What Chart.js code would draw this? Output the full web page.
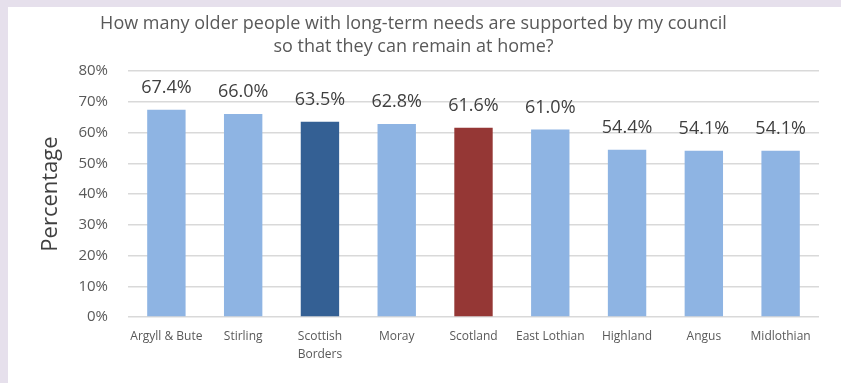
<!DOCTYPE html>
<html>
<head>
<meta charset="utf-8">
<script src="https://cdn.jsdelivr.net/npm/chart.js@4.4.1/dist/chart.umd.min.js"></script>
<style>
  html, body { margin: 0; padding: 0; background: #E6E0EC; }
  #wrap { position: absolute; left: 8px; top: 7px; width: 833px; height: 376px; background: #FFFFFF; }
</style>
</head>
<body>
<div id="wrap"><canvas id="c" width="833" height="376"></canvas></div>
<script>
const councils = [
  'Argyll & Bute', 'Stirling', ['Scottish', 'Borders'], 'Moray', 'Scotland',
  'East Lothian', 'Highland', 'Angus', 'Midlothian'
];
const supportedAtHome = [67.4, 66.0, 63.5, 62.8, 61.6, 61.0, 54.4, 54.1, 54.1];
const barColours = ['#8EB4E3', '#8EB4E3', '#346094', '#8EB4E3', '#953735',
                    '#8EB4E3', '#8EB4E3', '#8EB4E3', '#8EB4E3'];
const yTicks = [0, 10, 20, 30, 40, 50, 60, 70, 80];

const FONT = '"Open Sans", Lato, sans-serif';
const TEXT = '#595959';

// value labels above each bar
const valueLabels = {
  id: 'valueLabels',
  afterDatasetsDraw(chart) {
    const ctx = chart.ctx;
    const meta = chart.getDatasetMeta(0);
    ctx.save();
    ctx.font = '18px ' + FONT;
    ctx.fillStyle = '#404040';
    ctx.textAlign = 'center';
    ctx.textBaseline = 'middle';
    meta.data.forEach((bar, i) => {
      ctx.fillText(supportedAtHome[i].toFixed(1) + '%', bar.x, bar.y - 22);
    });
    ctx.restore();
  }
};

new Chart(document.getElementById('c'), {
  type: 'bar',
  data: {
    labels: councils,
    datasets: [{
      data: supportedAtHome,
      backgroundColor: barColours,
      barPercentage: 0.5,
      categoryPercentage: 1.0
    }]
  },
  options: {
    responsive: false,
    animation: false,
    layout: { padding: { top: 5, right: 22, left: 0, bottom: 0 } },
    plugins: {
      legend: { display: false },
      tooltip: { enabled: false },
      title: {
        display: true,
        text: ['How many older people with long-term needs are supported by my council',
               'so that they can remain at home?'],
        color: TEXT,
        font: { family: FONT, size: 18, weight: 'normal', lineHeight: 1.28 },
        padding: { top: 0, bottom: 13 }
      }
    },
    scales: {
      x: {
        grid: { display: false },
        border: { display: false },
        ticks: {
          color: TEXT,
          font: { family: FONT, size: 12, lineHeight: 1.45 },
          maxRotation: 0,
          autoSkip: false,
          padding: 3
        },
        afterFit(scale) { scale.height = 66; }
      },
      y: {
        min: 0,
        max: 80,
        afterBuildTicks(scale) { scale.ticks = yTicks.map(v => ({ value: v })); },
        grid: { color: '#D9D9D9', lineWidth: 1.5, drawTicks: false },
        border: { display: false },
        ticks: {
          color: TEXT,
          font: { family: FONT, size: 15 },
          padding: 20,
          callback: v => v + '%'
        },
        title: {
          display: true,
          text: 'Percentage',
          color: '#404040',
          font: { family: FONT, size: 22, lineHeight: 1.2 },
          padding: { top: 30, bottom: 0 }
        },
        afterFit(scale) { scale.width = 120; }
      }
    }
  },
  plugins: [valueLabels]
});
</script>
</body>
</html>
